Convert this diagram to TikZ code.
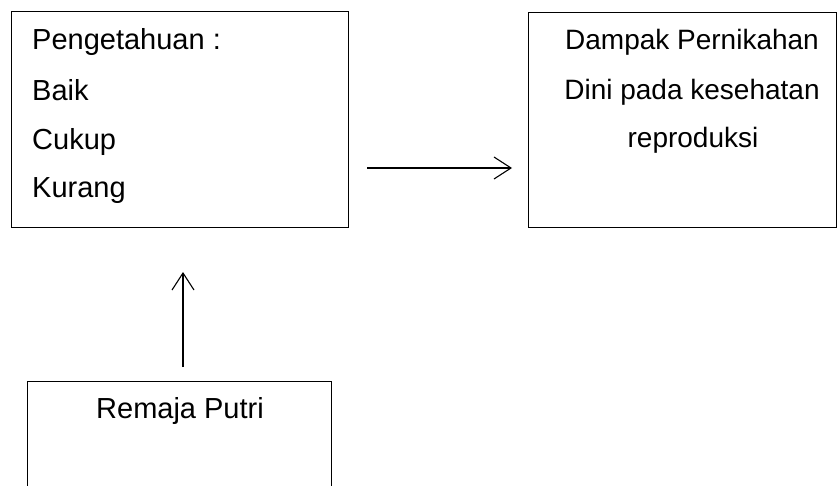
\documentclass[tikz,border=0pt]{standalone}
\usepackage{fontspec}
\setmainfont{Liberation Sans}
\usetikzlibrary{arrows.meta}
\begin{document}
\begin{tikzpicture}[x=1pt,y=-1pt,
  box/.style={draw=black,line width=0.9pt,rectangle,inner sep=0pt},
  txt/.style={font=\fontsize{29}{35}\selectfont,inner sep=0pt},
  txtb/.style={font=\fontsize{28}{34}\selectfont,inner sep=0pt},
  arr/.style={draw=black,line width=1.1pt,-{Straight Barb[length=17pt,width=22pt,line width=1.1pt]}}]
\useasboundingbox (0,0) rectangle (837,486);
\clip (0,0) rectangle (837,486);
\node[box,minimum width=337pt,minimum height=216pt] (b1) at (179.5,119) {};
\node[box,minimum width=308pt,minimum height=215pt] (b2) at (682,119.5) {};
\node[box,minimum width=304pt,minimum height=130pt] (b3) at (179,446) {};
\node[txt,anchor=base west] (t1) at (32,50) {Pengetahuan :};
\node[txt,anchor=base west] (t2) at (32,100.5) {Baik};
\node[txt,anchor=base west] (t3) at (32,150) {Cukup};
\node[txt,anchor=base west] (t4) at (32,198) {Kurang};
\node[txtb,anchor=base] (u1) at (692,50) {Dampak Pernikahan};
\node[txtb,anchor=base] (u2) at (692,100) {Dini pada kesehatan};
\node[txtb,anchor=base] (u3) at (693,148) {reproduksi};
\node[txt,anchor=base] (r1) at (180,418) {Remaja Putri};
\coordinate (h1) at (367,168);
\coordinate (h2) at (512,168);
\coordinate (v1) at (183,367);
\coordinate (v2) at (183,272);
\draw[arr] (h1) -- (h2);
\draw[arr] (v1) -- (v2);
\end{tikzpicture}
\end{document}
